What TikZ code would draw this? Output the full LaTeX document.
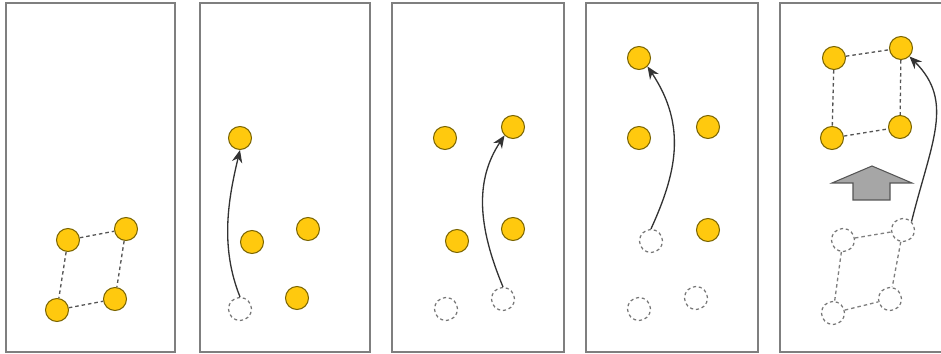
\documentclass[tikz,border=0pt]{standalone}
\usepackage{tikz}
\usetikzlibrary{arrows.meta}
\definecolor{walkGold}{HTML}{FFC90E}
\definecolor{walkEdge}{HTML}{7A6400}
\definecolor{walkGrey}{HTML}{7F7F7F}
\definecolor{walkDark}{HTML}{555555}
\definecolor{walkFill}{HTML}{A6A6A6}
\tikzset{
  >={Stealth[length=2.5mm,width=2.1mm]},
  panel/.style={draw=walkGrey, line width=0.045cm},
  bot/.style={circle, draw=walkEdge, fill=walkGold, line width=0.6pt,
              minimum size=0.46cm, inner sep=0pt},
  ghost/.style={circle, draw=walkDark!80, fill=white, line width=0.7pt,
              dash pattern=on 1.8pt off 1.6pt, minimum size=0.46cm, inner sep=0pt},
  link/.style={draw=walkDark, line width=0.75pt, dash pattern=on 2pt off 1.7pt},
  move/.style={->, draw=black!80, line width=0.75pt},
  bigarrow/.style={draw=walkDark, fill=walkFill, line width=0.6pt, line join=miter},
}
\begin{document}
\begin{tikzpicture}[x=0.02cm, y=-0.02cm]
  \useasboundingbox (0,0) rectangle (941,354);
  \clip (0,0) rectangle (941,354);
  % frames
  \foreach \l/\r in {6/175, 200/370, 392/564, 586/758, 780/960}
    \draw[panel] (\l,3) rectangle (\r,352);

  % panel 1: start
  \node[bot] (a1) at (68,240) {};
  \node[bot] (b1) at (126,229) {};
  \node[bot] (c1) at (57,310) {};
  \node[bot] (d1) at (115,299) {};
  \draw[link] (a1) -- (b1);
  \draw[link] (a1) -- (c1);
  \draw[link] (b1) -- (d1);
  \draw[link] (c1) -- (d1);

  % panel 2: first leg
  \node[ghost] (g2) at (240,309) {};
  \node[bot] (c2) at (240,138) {};
  \node[bot] (a2) at (252,242) {};
  \node[bot] (b2) at (308,229) {};
  \node[bot] (d2) at (297,298) {};
  \draw[move] (g2.north) .. controls +(-20,-50) and +(-12,50) .. (c2.south);

  % panel 3: second leg
  \node[ghost] (gc3) at (446,309) {};
  \node[ghost] (g3) at (503,299) {};
  \node[bot] (c3) at (445,138) {};
  \node[bot] (d3) at (513,127) {};
  \node[bot] (a3) at (457,241) {};
  \node[bot] (b3) at (513,229) {};
  \draw[move] (g3.north) .. controls +(-25,-60) and +(-30,45) .. (d3.south west);

  % panel 4: third leg
  \node[ghost] (g4) at (651,241) {};
  \node[ghost] (gc4) at (639,309) {};
  \node[ghost] (gd4) at (696,298) {};
  \node[bot] (a4) at (639,58) {};
  \node[bot] (c4) at (639,138) {};
  \node[bot] (d4) at (708,127) {};
  \node[bot] (b4) at (708,230) {};
  \draw[move] (g4.north) .. controls +(25,-55) and +(40,60) .. (a4.south east);

  % panel 5: last leg, whole body moved
  \node[ghost] (ga5) at (843,240) {};
  \node[ghost] (gb5) at (903,230) {};
  \node[ghost] (gc5) at (833,313) {};
  \node[ghost] (gd5) at (890,299) {};
  \draw[link, draw=walkGrey] (ga5) -- (gb5);
  \draw[link, draw=walkGrey] (ga5) -- (gc5);
  \draw[link, draw=walkGrey] (gb5) -- (gd5);
  \draw[link, draw=walkGrey] (gc5) -- (gd5);
  \node[bot] (a5) at (834,58) {};
  \node[bot] (b5) at (901,48) {};
  \node[bot] (c5) at (832,138) {};
  \node[bot] (d5) at (900,127) {};
  \draw[link] (a5) -- (b5);
  \draw[link] (a5) -- (c5);
  \draw[link] (b5) -- (d5);
  \draw[link] (c5) -- (d5);
  \draw[move] (gb5.north east) .. controls +(20,-80) and +(45,45) .. (b5.south east);
  \draw[bigarrow] (832,183) -- (872,166) -- (912,183) -- (890,183) -- (890,200)
    -- (853,200) -- (853,183) -- cycle;
\end{tikzpicture}
\end{document}
